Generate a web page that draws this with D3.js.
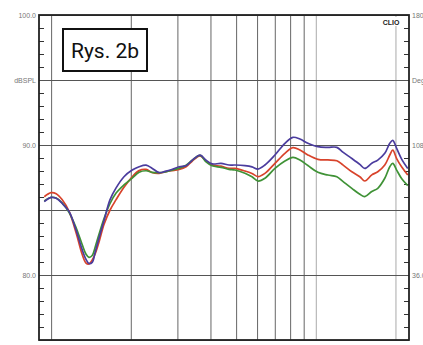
<!DOCTYPE html>
<html>
<head>
<meta charset="utf-8">
<script src="https://cdn.jsdelivr.net/npm/d3@7"></script>
<style>
  html, body { margin: 0; padding: 0; background: #fff; }
  svg { display: block; }
</style>
</head>
<body>
<svg id="chart" width="423" height="345"></svg>
<script>
// Frequency points (Hz) of the three response curves
const freqs = [942, 1000, 1045, 1100, 1170, 1245, 1310, 1355, 1390, 1430, 1465, 1520, 1585, 1670, 1760, 1885,
  2025, 2150, 2285, 2405, 2560, 2695, 2840, 3045, 3235, 3410, 3655, 3850, 4055, 4385, 4700, 4950,
  5400, 5740, 6045, 6425, 7010, 7645, 8195, 8710, 9335, 10185, 11105, 12010, 12655, 13685, 14670,
  15320, 16280, 17150, 18225, 19035, 19535, 20230, 21125, 22260];

// SPL (dB) of each curve at the frequencies above
const splBlue = [85.64, 85.97, 85.9, 85.52, 84.87, 83.4, 81.95, 81.2, 80.88, 80.97, 81.7, 82.9, 84.2, 85.8, 86.7, 87.56,
  88.07, 88.33, 88.45, 88.22, 87.87, 87.97, 88.1, 88.33, 88.4, 88.82, 89.22, 88.83, 88.55, 88.58, 88.46, 88.46,
  88.41, 88.32, 88.15, 88.46, 89.23, 90.13, 90.59, 90.46, 90.14, 89.87, 89.82, 89.82, 89.45, 88.96, 88.51,
  88.2, 88.6, 88.84, 89.36, 90.13, 90.36, 89.72, 88.9, 88.2];

const splRed = [86.02, 86.33, 86.25, 85.8, 84.87, 83.2, 81.6, 80.92, 80.85, 81.15, 81.6, 82.6, 83.9, 85.0, 85.8, 86.75,
  87.55, 88.03, 88.12, 87.88, 87.82, 87.93, 88.02, 88.12, 88.33, 88.75, 89.17, 88.77, 88.47, 88.37, 88.2, 88.2,
  88.0, 87.81, 87.57, 87.82, 88.59, 89.36, 89.8, 89.62, 89.24, 88.9, 88.85, 88.79, 88.47, 87.94, 87.56,
  87.23, 87.7, 87.94, 88.46, 89.23, 89.6, 88.93, 88.3, 87.69];

const splGreen = [85.69, 85.97, 85.92, 85.55, 84.8, 83.6, 82.35, 81.6, 81.36, 81.5, 82.1, 83.2, 84.35, 85.5, 86.3, 86.93,
  87.45, 87.9, 88.02, 87.9, 87.87, 87.92, 88.05, 88.22, 88.45, 88.83, 89.2, 88.7, 88.4, 88.28, 88.13, 88.08,
  87.82, 87.55, 87.23, 87.44, 88.2, 88.77, 89.05, 88.85, 88.42, 87.9, 87.69, 87.56, 87.2, 86.66, 86.21,
  86.03, 86.42, 86.67, 87.44, 88.33, 88.58, 88.05, 87.4, 86.87];

// Grid frequencies and level axis labels
const gridFreqs = [1000, 2000, 3000, 4000, 5000, 6000, 7000, 8000, 9000, 10000, 20000];
const lightGridFreqs = [10000, 20000];
const levelTicks = [100, 95, 90, 85, 80, 75];
const levelLabels = ["100.0", "dBSPL", "90.0", "", "80.0", ""];
const phaseLabels = ["180.0", "Deg", "108.0", "", "36.0", ""];
const minorTicks = d3.range(76, 100).filter(v => v % 5 !== 0);

const plotLeft = 39, plotRight = 409, plotTop = 15, plotBottom = 340;

const svg = d3.select("#chart");

const x = d3.scaleLog().domain([900, 22500]).range([plotLeft, plotRight]);
const y = d3.scaleLinear().domain([75, 100]).range([plotBottom, plotTop]);

// Vertical grid
const xGrid = svg.append("g")
  .attr("transform", `translate(0,${plotBottom})`)
  .call(d3.axisBottom(x).tickValues(gridFreqs).tickSize(-(plotBottom - plotTop)).tickFormat(""));
xGrid.select(".domain").remove();
xGrid.selectAll(".tick line")
  .attr("stroke", d => lightGridFreqs.includes(d) ? "#aaa" : "#666")
  .attr("stroke-width", 1);

// Horizontal grid
const yGrid = svg.append("g")
  .attr("transform", `translate(${plotLeft},0)`)
  .call(d3.axisLeft(y).tickValues(levelTicks).tickSize(-(plotRight - plotLeft)).tickFormat(""));
yGrid.select(".domain").remove();
yGrid.selectAll(".tick line").attr("stroke", "#555").attr("stroke-width", 1);

// Minor ticks on both sides, pointing inwards
const lMinor = svg.append("g")
  .attr("transform", `translate(${plotLeft},0)`)
  .call(d3.axisLeft(y).tickValues(minorTicks).tickSize(-5).tickFormat(""));
lMinor.select(".domain").remove();
lMinor.selectAll(".tick line").attr("stroke", "#333");

const rMinor = svg.append("g")
  .attr("transform", `translate(${plotRight},0)`)
  .call(d3.axisRight(y).tickValues(minorTicks).tickSize(-5).tickFormat(""));
rMinor.select(".domain").remove();
rMinor.selectAll(".tick line").attr("stroke", "#333");

// Axis labels
const lLab = svg.append("g")
  .attr("transform", `translate(${plotLeft},0)`)
  .call(d3.axisLeft(y).tickValues(levelTicks).tickSize(0).tickPadding(3)
    .tickFormat((d, i) => levelLabels[i]));
lLab.select(".domain").remove();
lLab.selectAll("text")
  .attr("font-family", "Liberation Sans, Arial, sans-serif")
  .attr("font-size", 7).attr("fill", "#777");

const rLab = svg.append("g")
  .attr("transform", `translate(${plotRight},0)`)
  .call(d3.axisRight(y).tickValues(levelTicks).tickSize(0).tickPadding(3)
    .tickFormat((d, i) => phaseLabels[i]));
rLab.select(".domain").remove();
rLab.selectAll("text")
  .attr("font-family", "Liberation Sans, Arial, sans-serif")
  .attr("font-size", 7).attr("fill", "#777");

// Software tag in the top right corner
svg.append("rect").attr("x", 380).attr("y", 17).attr("width", 22).attr("height", 9).attr("fill", "#fff");
svg.append("text")
  .attr("x", 391).attr("y", 24.5).attr("text-anchor", "middle")
  .attr("font-family", "Liberation Sans, Arial, sans-serif")
  .attr("font-weight", "bold").attr("font-size", 7).attr("fill", "#222")
  .text("CLIO");

// Response curves
const line = d3.line()
  .x((d, i) => x(freqs[i]))
  .y(d => y(d))
  .curve(d3.curveCatmullRom.alpha(0.5));

const series = [
  { values: splRed, color: "#d8432b" },
  { values: splGreen, color: "#3f9236" },
  { values: splBlue, color: "#4b3c9e" }
];

svg.append("g").selectAll("path")
  .data(series)
  .join("path")
  .attr("d", d => line(d.values))
  .attr("fill", "none")
  .attr("stroke", d => d.color)
  .attr("stroke-width", 1.7)
  .attr("stroke-linejoin", "round");

// Plot frame
svg.append("rect")
  .attr("x", plotLeft).attr("y", plotTop)
  .attr("width", plotRight - plotLeft).attr("height", plotBottom - plotTop)
  .attr("fill", "none").attr("stroke", "#222").attr("stroke-width", 1.8);

// Figure caption box
svg.append("rect")
  .attr("x", 63).attr("y", 29).attr("width", 84).attr("height", 42)
  .attr("fill", "#fff").attr("stroke", "#111").attr("stroke-width", 2);
svg.append("text")
  .attr("x", 105).attr("y", 57.5).attr("text-anchor", "middle")
  .attr("font-family", "Roboto, sans-serif").attr("font-size", 21).attr("fill", "#111")
  .text("Rys. 2b");
</script>
</body>
</html>
